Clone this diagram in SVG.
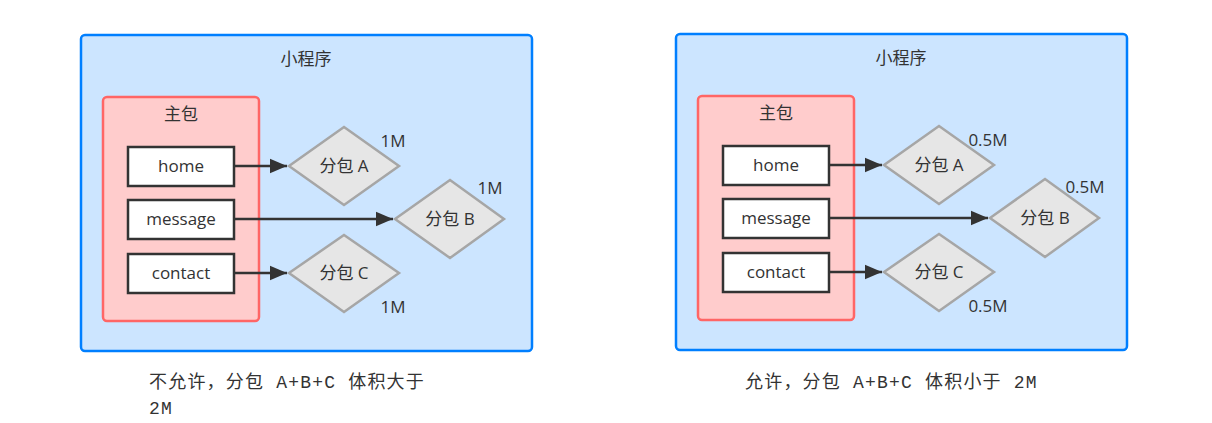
<svg xmlns="http://www.w3.org/2000/svg" width="1212" height="423" viewBox="0 0 1212 423">
<style>
.outer{fill:#cce5ff;stroke:#007fff;stroke-width:2.5}
.main{fill:#ffcccc;stroke:#ff6666;stroke-width:2.5}
.box{fill:#ffffff;stroke:#333333;stroke-width:2.5}
.dia{fill:#e6e6e6;stroke:#a6a6a6;stroke-width:2.5}
.t{font-family:"Open Sans","Noto Sans CJK SC",sans-serif;font-size:17px;fill:#333333;text-anchor:middle}
.cap{font-family:"Liberation Mono","Noto Sans CJK SC",monospace;font-size:18px;letter-spacing:1.2px;fill:#333333}
.con{stroke:#333333;stroke-width:2.5;fill:none}
</style>
<defs>
<marker id="arr" markerWidth="8" markerHeight="8" refX="7" refY="4" orient="auto" markerUnits="strokeWidth">
<path d="M0,1 L7,4 L0,7 Z" fill="#333333"/>
</marker>
</defs>

<g id="left-panel">
<g id="L-app"><rect class="outer" x="81" y="35" width="451" height="316" rx="4"/><text class="t" x="306" y="65">小程序</text></g>
<g id="L-main"><rect class="main" x="103" y="97" width="156" height="224" rx="4"/><text class="t" x="181" y="120">主包</text></g>
<g id="L-home"><rect class="box" x="128" y="147" width="106" height="39"/><text class="t" x="181" y="172">home</text></g>
<g id="L-message"><rect class="box" x="128" y="200" width="106" height="39"/><text class="t" x="181" y="225">message</text></g>
<g id="L-contact"><rect class="box" x="128" y="254" width="106" height="39"/><text class="t" x="181" y="279">contact</text></g>
<g id="L-A"><polygon class="dia" points="289,166 344,127 399,166 344,205"/><text class="t" x="344" y="172">分包 A</text><text class="t" x="393" y="147">1M</text></g>
<g id="L-B"><polygon class="dia" points="395,219 450,180 504,219 450,258"/><text class="t" x="450" y="225">分包 B</text><text class="t" x="490" y="194">1M</text></g>
<g id="L-C"><polygon class="dia" points="289,273 344,235 399,273 344,312"/><text class="t" x="344" y="279">分包 C</text><text class="t" x="393" y="313">1M</text></g>
</g>

<g id="right-panel">
<g id="R-app"><rect class="outer" x="676" y="34" width="451" height="316" rx="4"/><text class="t" x="901" y="64">小程序</text></g>
<g id="R-main"><rect class="main" x="698" y="96" width="156" height="224" rx="4"/><text class="t" x="776" y="119">主包</text></g>
<g id="R-home"><rect class="box" x="723" y="146" width="106" height="39"/><text class="t" x="776" y="171">home</text></g>
<g id="R-message"><rect class="box" x="723" y="199" width="106" height="39"/><text class="t" x="776" y="224">message</text></g>
<g id="R-contact"><rect class="box" x="723" y="253" width="106" height="39"/><text class="t" x="776" y="278">contact</text></g>
<g id="R-A"><polygon class="dia" points="884,165 939,126 994,165 939,204"/><text class="t" x="939" y="171">分包 A</text><text class="t" x="988" y="146">0.5M</text></g>
<g id="R-B"><polygon class="dia" points="990,218 1045,179 1099,218 1045,257"/><text class="t" x="1045" y="224">分包 B</text><text class="t" x="1085" y="193">0.5M</text></g>
<g id="R-C"><polygon class="dia" points="884,272 939,234 994,272 939,311"/><text class="t" x="939" y="278">分包 C</text><text class="t" x="988" y="312">0.5M</text></g>
</g>

<g id="connectors">
<line class="con" x1="234" y1="166" x2="287" y2="166" marker-end="url(#arr)"/>
<line class="con" x1="234" y1="219" x2="393" y2="219" marker-end="url(#arr)"/>
<line class="con" x1="234" y1="273" x2="287" y2="273" marker-end="url(#arr)"/>
<line class="con" x1="829" y1="165" x2="882" y2="165" marker-end="url(#arr)"/>
<line class="con" x1="829" y1="218" x2="988" y2="218" marker-end="url(#arr)"/>
<line class="con" x1="829" y1="272" x2="882" y2="272" marker-end="url(#arr)"/>
</g>

<g id="captions">
<text class="cap" x="149" y="388">不允许，分包 A+B+C 体积大于</text>
<text class="cap" x="149" y="414">2M</text>
<text class="cap" x="745" y="388">允许，分包 A+B+C 体积小于 2M</text>
</g>
</svg>
